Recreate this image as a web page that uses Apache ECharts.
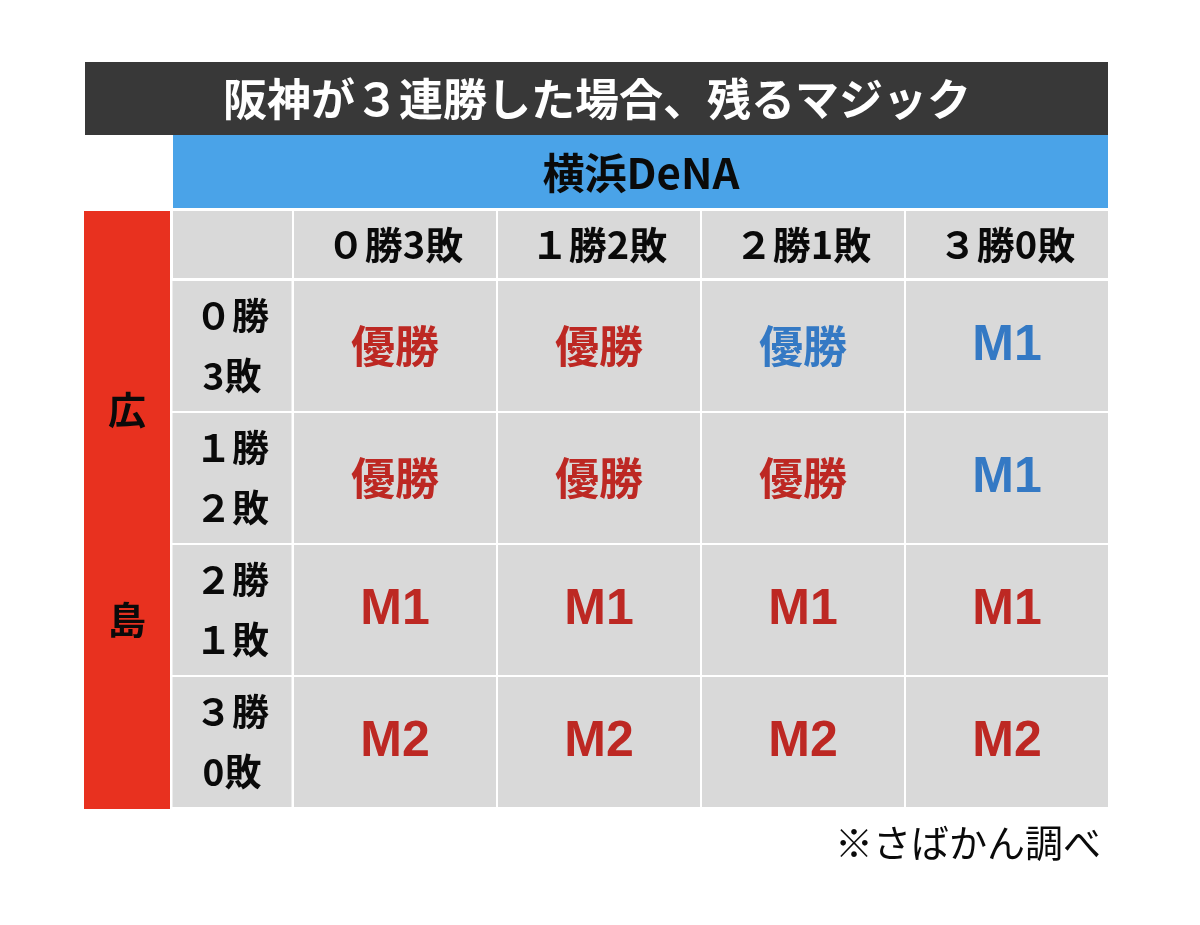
<!DOCTYPE html>
<html>
<head>
<meta charset="utf-8">
<script src="https://cdn.jsdelivr.net/npm/echarts@6/dist/echarts.min.js"></script>
<style>
html, body { margin: 0; padding: 0; background: #fff; }
#chart { width: 1200px; height: 925px; }
</style>
</head>
<body>
<div id="chart"></div>
<script>
// 阪神が３連勝した場合の残りマジック表
var titleText = '阪神が３連勝した場合、残るマジック';
var denaLabel = '横浜DeNA';
var hiroLabel = ['広', '島'];
var denaCols = ['０勝3敗', '１勝2敗', '２勝1敗', '３勝0敗'];
var hiroRows = ['０勝\n3敗', '１勝\n２敗', '２勝\n１敗', '３勝\n0敗'];
// 行 = 広島の成績, 列 = DeNAの成績
var results = [
	['優勝', '優勝', '優勝', 'M1'],
	['優勝', '優勝', '優勝', 'M1'],
	['M1', 'M1', 'M1', 'M1'],
	['M2', 'M2', 'M2', 'M2']
];
// 1 = 青字
var blueMark = [
	[0, 0, 1, 1],
	[0, 0, 0, 1],
	[0, 0, 0, 0],
	[0, 0, 0, 0]
];
var note = '※さばかん調べ';

var RED_TEXT = '#bd2823';
var BLUE_TEXT = '#3479c4';
var CELL = '#d9d9d9';
var CJK = '"Noto Sans CJK JP", sans-serif';

var cellData = [];
for (var r = 0; r < hiroRows.length; r++) {
	for (var c = 0; c < denaCols.length; c++) {
		cellData.push([c, r, results[r][c], blueMark[r][c]]);
	}
}

var option = {
	backgroundColor: '#fff',
	animation: false,
	grid: { left: 293, top: 280, width: 816, height: 528 },
	xAxis: {
		type: 'category',
		position: 'top',
		data: denaCols,
		axisLine: { show: false },
		axisTick: { show: false },
		splitLine: { show: false },
		axisLabel: {
			interval: 0,
			margin: 2,
			width: 202,
			height: 67,
			lineHeight: 67,
			align: 'center',
			verticalAlign: 'bottom',
			backgroundColor: CELL,
			color: '#0a0a0a',
			fontFamily: CJK,
			fontWeight: 'bold',
			fontSize: 38
		}
	},
	yAxis: {
		type: 'category',
		inverse: true,
		data: hiroRows,
		axisLine: { show: false },
		axisTick: { show: false },
		splitLine: { show: false },
		axisLabel: {
			interval: 0,
			margin: 61,
			width: 119,
			height: 130,
			lineHeight: 60,
			align: 'center',
			verticalAlign: 'middle',
			backgroundColor: CELL,
			color: '#0a0a0a',
			fontFamily: CJK,
			fontWeight: 'bold',
			fontSize: 37
		}
	},
	series: [{
		type: 'custom',
		data: cellData,
		renderItem: function(params, api) {
			var p = api.coord([api.value(0), api.value(1)]);
			var s = api.size([1, 1]);
			var txt = cellData[params.dataIndex][2];
			var isBlue = cellData[params.dataIndex][3] == 1;
			var latin = txt.charAt(0) == 'M';
			return {
				type: 'rect',
				shape: { x: p[0] - s[0] / 2 + 1, y: p[1] - s[1] / 2 + 1, width: s[0] - 2, height: s[1] - 2 },
				style: { fill: CELL },
				textContent: {
					type: 'text',
					style: {
						text: txt,
						fill: isBlue ? BLUE_TEXT : RED_TEXT,
						fontFamily: latin ? '"Liberation Sans", Arial, sans-serif' : CJK,
						fontWeight: 'bold',
						fontSize: latin ? 50 : 44
					}
				},
				textConfig: { position: 'inside' }
			};
		}
	}],
	graphic: [
		{ type: 'rect', shape: { x: 85, y: 62, width: 1023, height: 73 }, style: { fill: '#383838' } },
		{ type: 'text', x: 597, y: 99, style: { text: titleText, fill: '#fff', fontFamily: CJK, fontWeight: 'bold', fontSize: 44, align: 'center', verticalAlign: 'middle' } },
		{ type: 'rect', shape: { x: 173, y: 135, width: 935, height: 73 }, style: { fill: '#4aa3e8' } },
		{ type: 'text', x: 641, y: 173, style: { text: denaLabel, fill: '#0a0a0a', fontFamily: CJK, fontWeight: 'bold', fontSize: 42, align: 'center', verticalAlign: 'middle' } },
		{ type: 'rect', shape: { x: 84, y: 211, width: 86, height: 598 }, style: { fill: '#e8311f' } },
		{ type: 'text', x: 127, y: 410, style: { text: hiroLabel[0], fill: '#0a0a0a', fontFamily: CJK, fontWeight: 'bold', fontSize: 38, align: 'center', verticalAlign: 'middle' } },
		{ type: 'text', x: 127, y: 620, style: { text: hiroLabel[1], fill: '#0a0a0a', fontFamily: CJK, fontWeight: 'bold', fontSize: 38, align: 'center', verticalAlign: 'middle' } },
		{ type: 'rect', shape: { x: 173, y: 211, width: 119, height: 67 }, style: { fill: CELL } },
		{ type: 'text', x: 1101, y: 843, style: { text: note, fill: '#0a0a0a', fontFamily: CJK, fontSize: 38, align: 'right', verticalAlign: 'middle' } }
	]
};

var myChart = echarts.init(document.getElementById('chart'));
myChart.setOption(option);
window.onresize = myChart.resize;
</script>
</body>
</html>
